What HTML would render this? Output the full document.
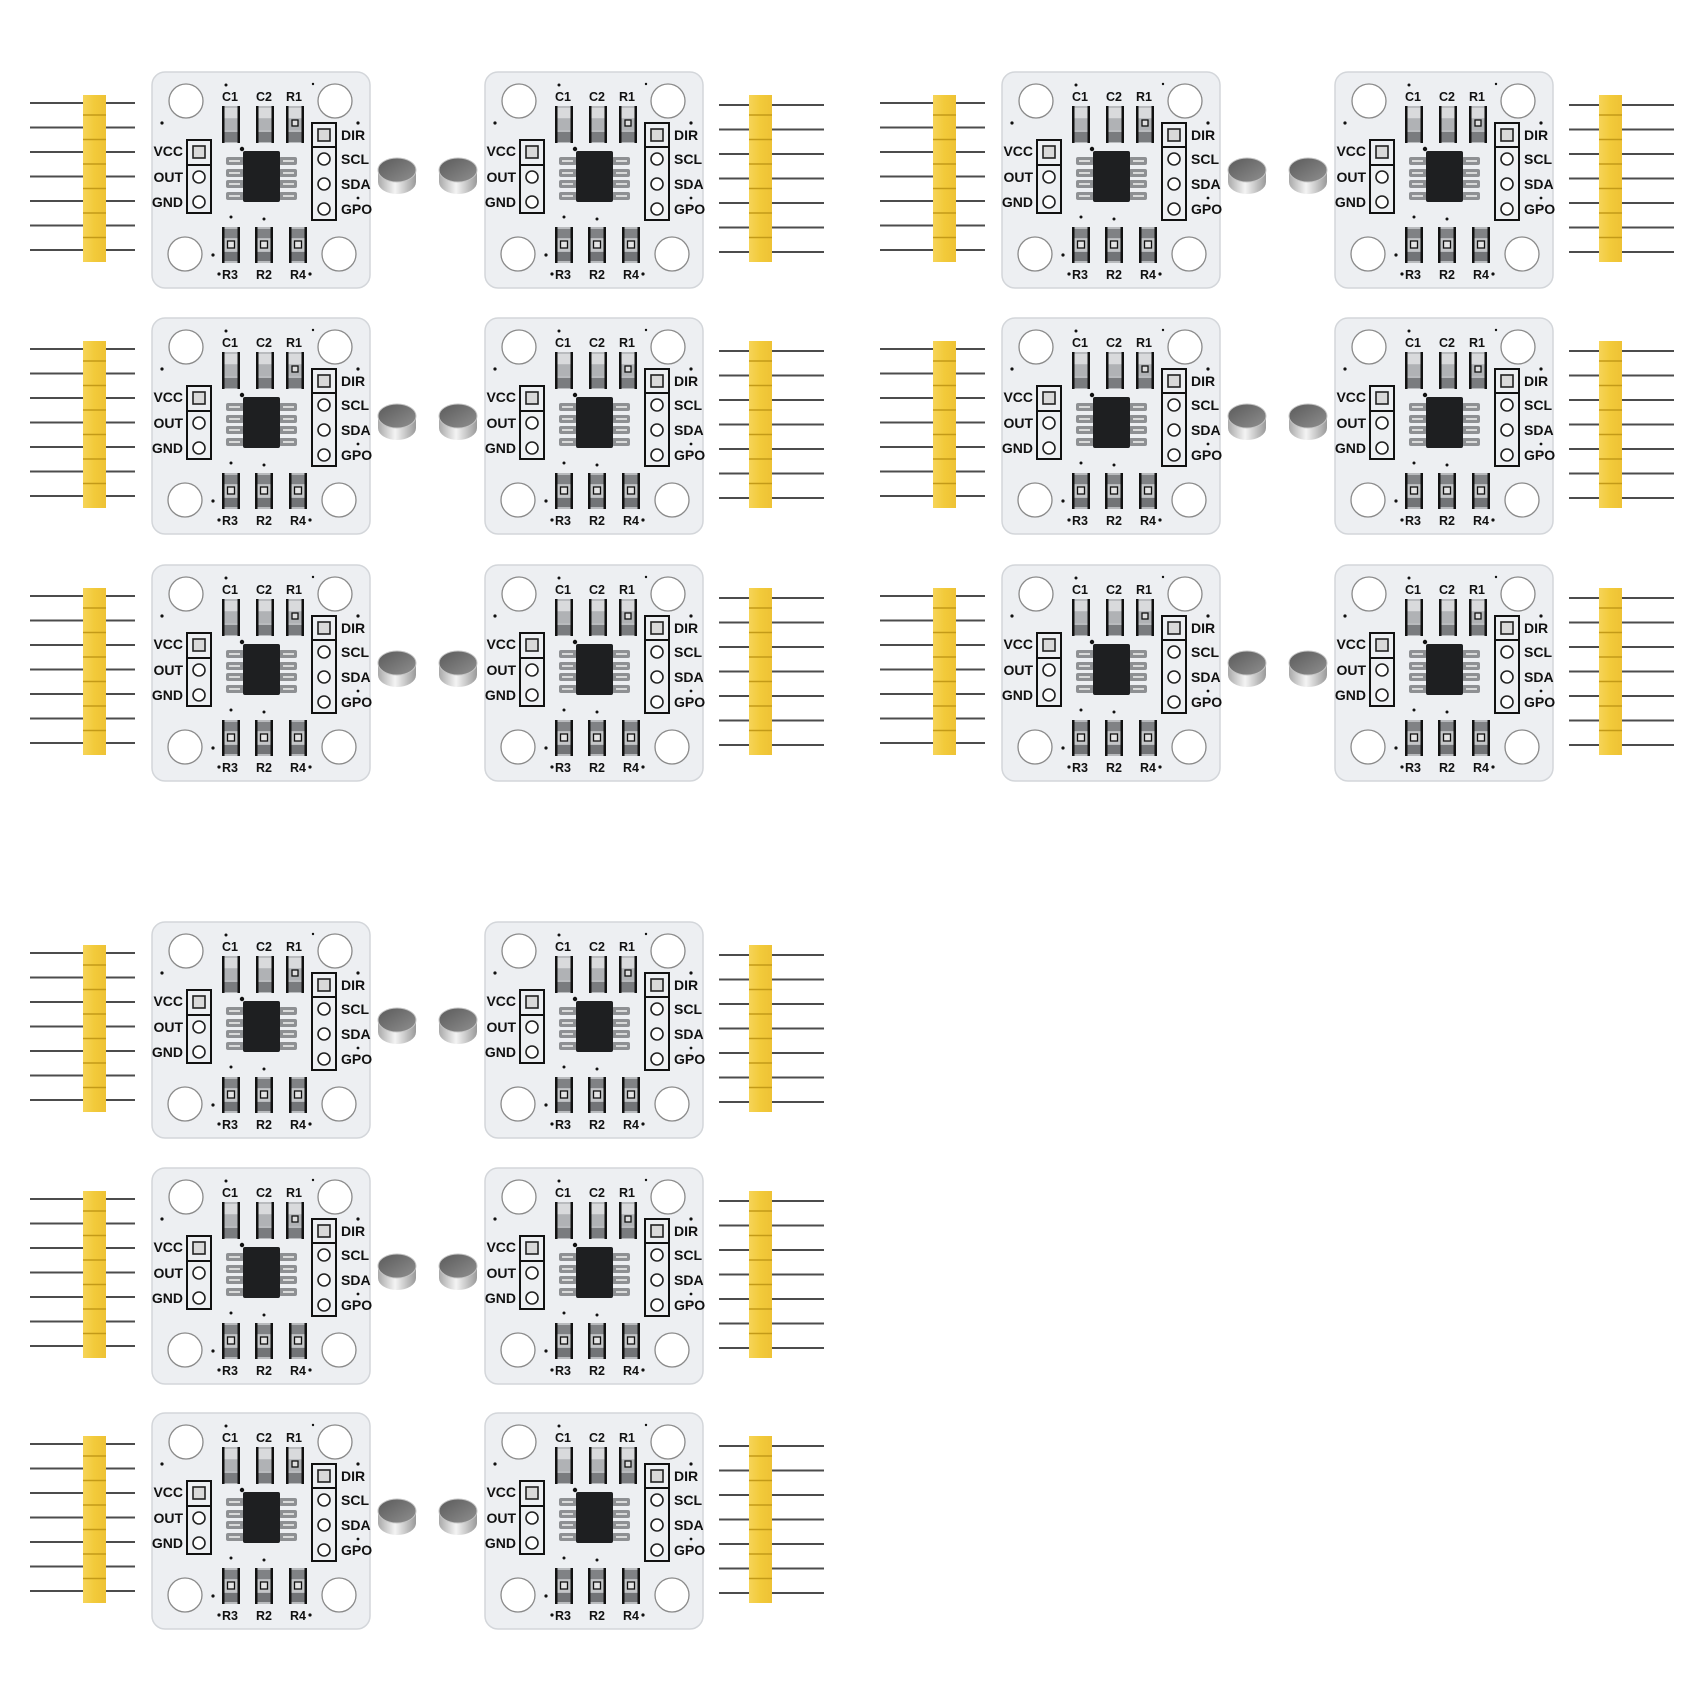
<!DOCTYPE html>
<html><head><meta charset="utf-8"><style>
html,body{margin:0;padding:0;background:#fff;}
svg{display:block;}
text{font-family:"Liberation Sans",sans-serif;font-weight:bold;fill:#111;font-size:14px;}
text.e{text-anchor:end;}
text.s{text-anchor:middle;font-size:12.5px;}
</style></head><body>
<svg width="1700" height="1700" viewBox="0 0 1700 1700" xmlns="http://www.w3.org/2000/svg">
<defs>
<linearGradient id="silv" x1="0" x2="1" y1="0" y2="0"><stop offset="0" stop-color="#a9a9a9"/><stop offset="0.45" stop-color="#f4f4f4"/><stop offset="1" stop-color="#9a9a9a"/></linearGradient>
<linearGradient id="topg" x1="0" x2="1" y1="0" y2="1"><stop offset="0" stop-color="#5a5a5a"/><stop offset="1" stop-color="#8f8f8f"/></linearGradient>
<linearGradient id="yel" x1="0" x2="1"><stop offset="0" stop-color="#f6d458"/><stop offset="0.5" stop-color="#f2ca3a"/><stop offset="1" stop-color="#eec235"/></linearGradient>
<g id="tc">
<rect x="0" y="0" width="18" height="37" fill="#b9bbbe"/>
<rect x="2" y="2" width="14" height="10" fill="#d9dadc"/>
<rect x="2" y="13" width="14" height="11" fill="#b0b2b5"/>
<rect x="2" y="26" width="14" height="10" fill="#7a7c7f"/>
<rect x="0" y="0" width="2.5" height="37" fill="#111"/>
<rect x="15.5" y="0" width="2.5" height="37" fill="#111"/>
</g>
<g id="bc">
<rect x="0" y="0" width="18" height="36" fill="#b9bbbe"/>
<rect x="2" y="2" width="14" height="9" fill="#808285"/>
<rect x="2" y="12" width="14" height="12" fill="#c4c6c8"/>
<rect x="5.5" y="14" width="7" height="7" fill="#e4e4e4" stroke="#111" stroke-width="1.3"/>
<rect x="2" y="25" width="14" height="9" fill="#727477"/>
<rect x="0" y="0" width="2.5" height="36" fill="#111"/>
<rect x="15.5" y="0" width="2.5" height="36" fill="#111"/>
</g>
<g id="brd">
<rect x="0" y="0" width="218" height="216" rx="13" fill="#edeff2" stroke="#d3d6da" stroke-width="1.5"/>
<circle cx="34" cy="29" r="17" fill="#fff" stroke="#8a8a8a" stroke-width="1.3"/>
<circle cx="183" cy="29" r="17" fill="#fff" stroke="#8a8a8a" stroke-width="1.3"/>
<circle cx="33" cy="182" r="17" fill="#fff" stroke="#8a8a8a" stroke-width="1.3"/>
<circle cx="187" cy="182" r="17" fill="#fff" stroke="#8a8a8a" stroke-width="1.3"/>
<use href="#tc" x="70" y="34"/>
<use href="#tc" x="104" y="34"/>
<use href="#tc" x="134" y="34"/>
<rect x="140" y="48" width="6" height="6" fill="#ddd" stroke="#111" stroke-width="1.3"/>
<use href="#bc" x="70" y="155"/>
<use href="#bc" x="103" y="155"/>
<use href="#bc" x="137" y="155"/>
<g fill="#8e9093">
<rect x="74" y="85" width="18" height="8" rx="2"/><rect x="74" y="97" width="18" height="8" rx="2"/><rect x="74" y="108" width="18" height="8" rx="2"/><rect x="74" y="120" width="18" height="8" rx="2"/>
<rect x="127" y="85" width="18" height="8" rx="2"/><rect x="127" y="97" width="18" height="8" rx="2"/><rect x="127" y="108" width="18" height="8" rx="2"/><rect x="127" y="120" width="18" height="8" rx="2"/>
</g>
<g stroke="#f2f2f2" stroke-width="1.5">
<line x1="77" y1="89" x2="88" y2="89"/><line x1="77" y1="101" x2="88" y2="101"/><line x1="77" y1="112" x2="88" y2="112"/><line x1="77" y1="124" x2="88" y2="124"/>
<line x1="131" y1="89" x2="142" y2="89"/><line x1="131" y1="101" x2="142" y2="101"/><line x1="131" y1="112" x2="142" y2="112"/><line x1="131" y1="124" x2="142" y2="124"/>
</g>
<rect x="91" y="79" width="37" height="51" rx="2" fill="#1e1f21"/>
<circle cx="90" cy="77" r="2.2" fill="#111"/>
<rect x="35" y="68" width="24" height="73" fill="none" stroke="#111" stroke-width="2"/>
<line x1="35" y1="93" x2="59" y2="93" stroke="#111" stroke-width="2"/>
<rect x="41" y="74" width="12" height="12" fill="#d9d9d9" stroke="#222" stroke-width="1.6"/>
<circle cx="47" cy="105" r="6" fill="#fff" stroke="#222" stroke-width="1.6"/>
<circle cx="47" cy="130" r="6" fill="#fff" stroke="#222" stroke-width="1.6"/>
<rect x="160" y="51" width="24" height="97" fill="none" stroke="#111" stroke-width="2"/>
<line x1="160" y1="75" x2="184" y2="75" stroke="#111" stroke-width="2"/>
<rect x="166" y="57" width="12" height="12" fill="#d9d9d9" stroke="#222" stroke-width="1.6"/>
<circle cx="172" cy="87" r="6" fill="#fff" stroke="#222" stroke-width="1.6"/>
<circle cx="172" cy="112" r="6" fill="#fff" stroke="#222" stroke-width="1.6"/>
<circle cx="172" cy="137" r="6" fill="#fff" stroke="#222" stroke-width="1.6"/>
<g fill="#111">
<circle cx="10" cy="51" r="1.6"/><circle cx="74" cy="13" r="1.5"/><circle cx="161" cy="12" r="1.2"/><circle cx="206" cy="51" r="1.6"/>
<circle cx="79" cy="145" r="1.5"/><circle cx="112" cy="147" r="1.5"/><circle cx="61" cy="183" r="1.6"/><circle cx="206" cy="126" r="1.4"/>
<circle cx="67" cy="202" r="1.6"/><circle cx="158" cy="202" r="1.6"/>
</g>
</g>
<g id="mag">
<ellipse cx="0" cy="6" rx="19" ry="12" fill="url(#silv)"/>
<rect x="-19" y="-6" width="38" height="12" fill="url(#silv)"/>
<ellipse cx="0" cy="-6" rx="19" ry="12" fill="url(#topg)" stroke="#c4c4c4" stroke-width="1"/>
</g>
<g id="hdr">
<g stroke="#4c4c4c" stroke-width="2">
<line x1="0" y1="0" x2="105" y2="0"/><line x1="0" y1="24.5" x2="105" y2="24.5"/><line x1="0" y1="49" x2="105" y2="49"/><line x1="0" y1="73.5" x2="105" y2="73.5"/><line x1="0" y1="98" x2="105" y2="98"/><line x1="0" y1="122.5" x2="105" y2="122.5"/><line x1="0" y1="147" x2="105" y2="147"/>
</g>
</g>
<g id="yb">
<rect x="0" y="0" width="23" height="167" fill="url(#yel)"/>
<g stroke="#c39a18" stroke-width="1.5">
<line x1="0" y1="20" x2="23" y2="20"/><line x1="0" y1="44.5" x2="23" y2="44.5"/><line x1="0" y1="69" x2="23" y2="69"/><line x1="0" y1="93.5" x2="23" y2="93.5"/><line x1="0" y1="118" x2="23" y2="118"/><line x1="0" y1="142.5" x2="23" y2="142.5"/>
</g>
</g>
<g id="pair">
<use href="#hdr" x="-122" y="31"/>
<use href="#yb" x="-69" y="23"/>
<use href="#brd" x="0" y="0"/>
<use href="#mag" x="245" y="104"/>
<use href="#mag" x="306" y="104"/>
<use href="#brd" x="333" y="0"/>
<use href="#hdr" x="567" y="33"/>
<use href="#yb" x="597" y="23"/>
</g>
</defs>

<use href="#pair" x="152" y="72"/>
<use href="#pair" x="152" y="318"/>
<use href="#pair" x="152" y="565"/>
<use href="#pair" x="1002" y="72"/>
<use href="#pair" x="1002" y="318"/>
<use href="#pair" x="1002" y="565"/>
<use href="#pair" x="152" y="922"/>
<use href="#pair" x="152" y="1168"/>
<use href="#pair" x="152" y="1413"/>

<!-- Pair 1 -->
<g transform="translate(152,72)">
<g><text x="31" y="84" class="e">VCC</text><text x="31" y="110" class="e">OUT</text><text x="31" y="135" class="e">GND</text><text x="189" y="68">DIR</text><text x="189" y="92">SCL</text><text x="189" y="117">SDA</text><text x="189" y="142">GPO</text><text x="78" y="29" class="s">C1</text><text x="112" y="29" class="s">C2</text><text x="142" y="29" class="s">R1</text><text x="78" y="207" class="s">R3</text><text x="112" y="207" class="s">R2</text><text x="146" y="207" class="s">R4</text></g>
<g transform="translate(333,0)"><text x="31" y="84" class="e">VCC</text><text x="31" y="110" class="e">OUT</text><text x="31" y="135" class="e">GND</text><text x="189" y="68">DIR</text><text x="189" y="92">SCL</text><text x="189" y="117">SDA</text><text x="189" y="142">GPO</text><text x="78" y="29" class="s">C1</text><text x="112" y="29" class="s">C2</text><text x="142" y="29" class="s">R1</text><text x="78" y="207" class="s">R3</text><text x="112" y="207" class="s">R2</text><text x="146" y="207" class="s">R4</text></g>
</g>
<!-- Pair 2 -->
<g transform="translate(152,318)">
<g><text x="31" y="84" class="e">VCC</text><text x="31" y="110" class="e">OUT</text><text x="31" y="135" class="e">GND</text><text x="189" y="68">DIR</text><text x="189" y="92">SCL</text><text x="189" y="117">SDA</text><text x="189" y="142">GPO</text><text x="78" y="29" class="s">C1</text><text x="112" y="29" class="s">C2</text><text x="142" y="29" class="s">R1</text><text x="78" y="207" class="s">R3</text><text x="112" y="207" class="s">R2</text><text x="146" y="207" class="s">R4</text></g>
<g transform="translate(333,0)"><text x="31" y="84" class="e">VCC</text><text x="31" y="110" class="e">OUT</text><text x="31" y="135" class="e">GND</text><text x="189" y="68">DIR</text><text x="189" y="92">SCL</text><text x="189" y="117">SDA</text><text x="189" y="142">GPO</text><text x="78" y="29" class="s">C1</text><text x="112" y="29" class="s">C2</text><text x="142" y="29" class="s">R1</text><text x="78" y="207" class="s">R3</text><text x="112" y="207" class="s">R2</text><text x="146" y="207" class="s">R4</text></g>
</g>
<!-- Pair 3 -->
<g transform="translate(152,565)">
<g><text x="31" y="84" class="e">VCC</text><text x="31" y="110" class="e">OUT</text><text x="31" y="135" class="e">GND</text><text x="189" y="68">DIR</text><text x="189" y="92">SCL</text><text x="189" y="117">SDA</text><text x="189" y="142">GPO</text><text x="78" y="29" class="s">C1</text><text x="112" y="29" class="s">C2</text><text x="142" y="29" class="s">R1</text><text x="78" y="207" class="s">R3</text><text x="112" y="207" class="s">R2</text><text x="146" y="207" class="s">R4</text></g>
<g transform="translate(333,0)"><text x="31" y="84" class="e">VCC</text><text x="31" y="110" class="e">OUT</text><text x="31" y="135" class="e">GND</text><text x="189" y="68">DIR</text><text x="189" y="92">SCL</text><text x="189" y="117">SDA</text><text x="189" y="142">GPO</text><text x="78" y="29" class="s">C1</text><text x="112" y="29" class="s">C2</text><text x="142" y="29" class="s">R1</text><text x="78" y="207" class="s">R3</text><text x="112" y="207" class="s">R2</text><text x="146" y="207" class="s">R4</text></g>
</g>
<!-- Pair 4 -->
<g transform="translate(1002,72)">
<g><text x="31" y="84" class="e">VCC</text><text x="31" y="110" class="e">OUT</text><text x="31" y="135" class="e">GND</text><text x="189" y="68">DIR</text><text x="189" y="92">SCL</text><text x="189" y="117">SDA</text><text x="189" y="142">GPO</text><text x="78" y="29" class="s">C1</text><text x="112" y="29" class="s">C2</text><text x="142" y="29" class="s">R1</text><text x="78" y="207" class="s">R3</text><text x="112" y="207" class="s">R2</text><text x="146" y="207" class="s">R4</text></g>
<g transform="translate(333,0)"><text x="31" y="84" class="e">VCC</text><text x="31" y="110" class="e">OUT</text><text x="31" y="135" class="e">GND</text><text x="189" y="68">DIR</text><text x="189" y="92">SCL</text><text x="189" y="117">SDA</text><text x="189" y="142">GPO</text><text x="78" y="29" class="s">C1</text><text x="112" y="29" class="s">C2</text><text x="142" y="29" class="s">R1</text><text x="78" y="207" class="s">R3</text><text x="112" y="207" class="s">R2</text><text x="146" y="207" class="s">R4</text></g>
</g>
<!-- Pair 5 -->
<g transform="translate(1002,318)">
<g><text x="31" y="84" class="e">VCC</text><text x="31" y="110" class="e">OUT</text><text x="31" y="135" class="e">GND</text><text x="189" y="68">DIR</text><text x="189" y="92">SCL</text><text x="189" y="117">SDA</text><text x="189" y="142">GPO</text><text x="78" y="29" class="s">C1</text><text x="112" y="29" class="s">C2</text><text x="142" y="29" class="s">R1</text><text x="78" y="207" class="s">R3</text><text x="112" y="207" class="s">R2</text><text x="146" y="207" class="s">R4</text></g>
<g transform="translate(333,0)"><text x="31" y="84" class="e">VCC</text><text x="31" y="110" class="e">OUT</text><text x="31" y="135" class="e">GND</text><text x="189" y="68">DIR</text><text x="189" y="92">SCL</text><text x="189" y="117">SDA</text><text x="189" y="142">GPO</text><text x="78" y="29" class="s">C1</text><text x="112" y="29" class="s">C2</text><text x="142" y="29" class="s">R1</text><text x="78" y="207" class="s">R3</text><text x="112" y="207" class="s">R2</text><text x="146" y="207" class="s">R4</text></g>
</g>
<!-- Pair 6 -->
<g transform="translate(1002,565)">
<g><text x="31" y="84" class="e">VCC</text><text x="31" y="110" class="e">OUT</text><text x="31" y="135" class="e">GND</text><text x="189" y="68">DIR</text><text x="189" y="92">SCL</text><text x="189" y="117">SDA</text><text x="189" y="142">GPO</text><text x="78" y="29" class="s">C1</text><text x="112" y="29" class="s">C2</text><text x="142" y="29" class="s">R1</text><text x="78" y="207" class="s">R3</text><text x="112" y="207" class="s">R2</text><text x="146" y="207" class="s">R4</text></g>
<g transform="translate(333,0)"><text x="31" y="84" class="e">VCC</text><text x="31" y="110" class="e">OUT</text><text x="31" y="135" class="e">GND</text><text x="189" y="68">DIR</text><text x="189" y="92">SCL</text><text x="189" y="117">SDA</text><text x="189" y="142">GPO</text><text x="78" y="29" class="s">C1</text><text x="112" y="29" class="s">C2</text><text x="142" y="29" class="s">R1</text><text x="78" y="207" class="s">R3</text><text x="112" y="207" class="s">R2</text><text x="146" y="207" class="s">R4</text></g>
</g>
<!-- Pair 7 -->
<g transform="translate(152,922)">
<g><text x="31" y="84" class="e">VCC</text><text x="31" y="110" class="e">OUT</text><text x="31" y="135" class="e">GND</text><text x="189" y="68">DIR</text><text x="189" y="92">SCL</text><text x="189" y="117">SDA</text><text x="189" y="142">GPO</text><text x="78" y="29" class="s">C1</text><text x="112" y="29" class="s">C2</text><text x="142" y="29" class="s">R1</text><text x="78" y="207" class="s">R3</text><text x="112" y="207" class="s">R2</text><text x="146" y="207" class="s">R4</text></g>
<g transform="translate(333,0)"><text x="31" y="84" class="e">VCC</text><text x="31" y="110" class="e">OUT</text><text x="31" y="135" class="e">GND</text><text x="189" y="68">DIR</text><text x="189" y="92">SCL</text><text x="189" y="117">SDA</text><text x="189" y="142">GPO</text><text x="78" y="29" class="s">C1</text><text x="112" y="29" class="s">C2</text><text x="142" y="29" class="s">R1</text><text x="78" y="207" class="s">R3</text><text x="112" y="207" class="s">R2</text><text x="146" y="207" class="s">R4</text></g>
</g>
<!-- Pair 8 -->
<g transform="translate(152,1168)">
<g><text x="31" y="84" class="e">VCC</text><text x="31" y="110" class="e">OUT</text><text x="31" y="135" class="e">GND</text><text x="189" y="68">DIR</text><text x="189" y="92">SCL</text><text x="189" y="117">SDA</text><text x="189" y="142">GPO</text><text x="78" y="29" class="s">C1</text><text x="112" y="29" class="s">C2</text><text x="142" y="29" class="s">R1</text><text x="78" y="207" class="s">R3</text><text x="112" y="207" class="s">R2</text><text x="146" y="207" class="s">R4</text></g>
<g transform="translate(333,0)"><text x="31" y="84" class="e">VCC</text><text x="31" y="110" class="e">OUT</text><text x="31" y="135" class="e">GND</text><text x="189" y="68">DIR</text><text x="189" y="92">SCL</text><text x="189" y="117">SDA</text><text x="189" y="142">GPO</text><text x="78" y="29" class="s">C1</text><text x="112" y="29" class="s">C2</text><text x="142" y="29" class="s">R1</text><text x="78" y="207" class="s">R3</text><text x="112" y="207" class="s">R2</text><text x="146" y="207" class="s">R4</text></g>
</g>
<!-- Pair 9 -->
<g transform="translate(152,1413)">
<g><text x="31" y="84" class="e">VCC</text><text x="31" y="110" class="e">OUT</text><text x="31" y="135" class="e">GND</text><text x="189" y="68">DIR</text><text x="189" y="92">SCL</text><text x="189" y="117">SDA</text><text x="189" y="142">GPO</text><text x="78" y="29" class="s">C1</text><text x="112" y="29" class="s">C2</text><text x="142" y="29" class="s">R1</text><text x="78" y="207" class="s">R3</text><text x="112" y="207" class="s">R2</text><text x="146" y="207" class="s">R4</text></g>
<g transform="translate(333,0)"><text x="31" y="84" class="e">VCC</text><text x="31" y="110" class="e">OUT</text><text x="31" y="135" class="e">GND</text><text x="189" y="68">DIR</text><text x="189" y="92">SCL</text><text x="189" y="117">SDA</text><text x="189" y="142">GPO</text><text x="78" y="29" class="s">C1</text><text x="112" y="29" class="s">C2</text><text x="142" y="29" class="s">R1</text><text x="78" y="207" class="s">R3</text><text x="112" y="207" class="s">R2</text><text x="146" y="207" class="s">R4</text></g>
</g>
</svg>
</body></html>
